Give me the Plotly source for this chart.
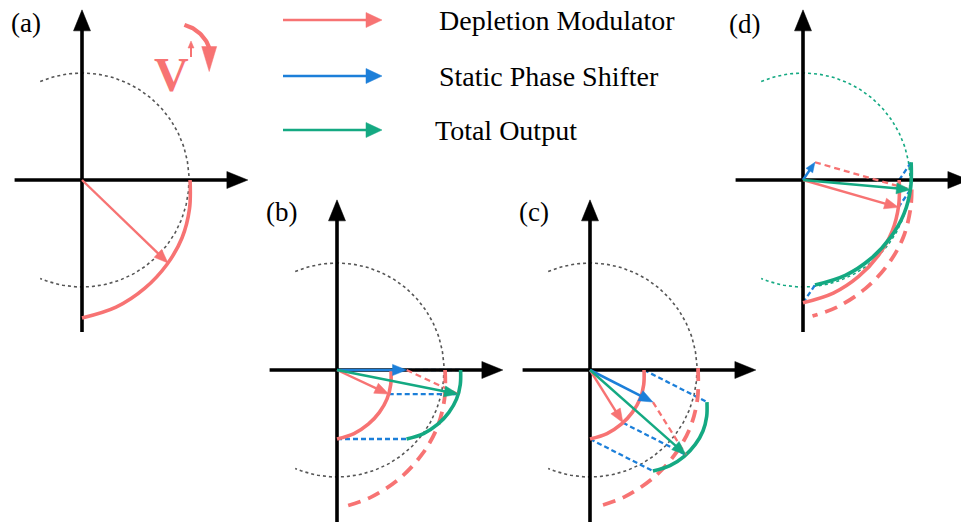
import numpy as np
import plotly.graph_objects as go

# ---------------- data (units: radius of reference circle = 1) ----------------
PANEL_LABELS = ["(a)", "(b)", "(c)", "(d)"]
LEGEND_LABELS = ["Depletion Modulator", "Static Phase Shifter", "Total Output"]

# depletion-modulator trajectory (angle in degrees, relative magnitude)
MOD_ANG = [0, -15, -30, -45, -60, -75, -90]
MOD_R = [1.01, 1.04, 1.08, 1.12, 1.17, 1.23, 1.29]

CIRCLE_SPAN = [113, -113]                     # reference circle arc (deg)
MOD_SCALE = [1.0, 0.5, 0.5, 0.89]            # modulator scale per panel
RED_ANGLE = [-44, -25, -58, -16]             # modulator vector angle per panel
BLUE_MAG = [0.0, 0.65, 0.66, 0.20]           # static phase shifter magnitude
BLUE_ANGLE = [0, 0, -27, 56]                 # static phase shifter angle
DASHED_START = [None, 0, 1, -5]              # full-scale dashed trajectory start
DASHED_END = [None, -86, -86, -86]           # full-scale dashed trajectory end

# ---------------- layout / styles ----------------
W, H = 961, 522
R = 107.0
ORIGINS = [(82, 180), (337, 370), (590, 370), (803, 180)]
LABEL_POS = [(9, 23), (264, 212), (517, 212), (727, 24)]
AX_LEFT, AX_RIGHT, AX_UP, AX_DOWN = 0.63, 1.55, 1.59, 1.42

RED = "#F77373"
BLUE = "#1C7FD9"
GREEN = "#14A982"
GRAY = "#555555"
CIRCLE_COLORS = [GRAY, GRAY, GRAY, GREEN]
FONT = "Liberation Serif"

fig = go.Figure()


def line(xs, ys, color, width, dash="solid", shape="linear"):
    fig.add_trace(go.Scatter(x=list(xs), y=list(ys), mode="lines",
                             line=dict(color=color, width=width, dash=dash, shape=shape),
                             hoverinfo="skip", showlegend=False))


def arrow(x0, y0, x1, y1, color, width=2.5, hl=14, hw=11):
    dx, dy = x1 - x0, y1 - y0
    L = np.hypot(dx, dy)
    ux, uy = dx / L, dy / L
    bx, by = x1 - ux * hl, y1 - uy * hl
    line([x0, bx + ux * 2], [y0, by + uy * 2], color, width)
    px, py = -uy, ux
    fig.add_trace(go.Scatter(
        x=[x1, bx + px * hw / 2, bx - px * hw / 2, x1],
        y=[y1, by + py * hw / 2, by - py * hw / 2, y1],
        mode="lines", fill="toself", fillcolor=color,
        line=dict(color=color, width=0.5), hoverinfo="skip", showlegend=False))


def to_px(o, r, ang):
    a = np.radians(ang)
    return o[0] + R * r * np.cos(a), o[1] - R * r * np.sin(a)


def mod_r(ang):
    return float(np.interp(ang, MOD_ANG[::-1], MOD_R[::-1]))


for i, o in enumerate(ORIGINS):
    ox, oy = o
    # reference circle (dotted)
    angs = np.linspace(CIRCLE_SPAN[0], CIRCLE_SPAN[1], 200)
    cx, cy = to_px(o, 1.0, angs)
    line(cx, cy, CIRCLE_COLORS[i], 1.6, dash="3px,3px")

    s = MOD_SCALE[i]
    arc_x, arc_y = to_px(o, s * np.array(MOD_R), np.array(MOD_ANG))
    red_tip = to_px(o, s * mod_r(RED_ANGLE[i]), RED_ANGLE[i])
    bdx = R * BLUE_MAG[i] * np.cos(np.radians(BLUE_ANGLE[i]))
    bdy = -R * BLUE_MAG[i] * np.sin(np.radians(BLUE_ANGLE[i]))
    has_blue = BLUE_MAG[i] > 0

    # blue dotted connectors (translation by static phase shifter)
    if has_blue:
        for (px_, py_) in [(arc_x[0], arc_y[0]), red_tip, (arc_x[-1], arc_y[-1])]:
            line([px_, px_ + bdx], [py_, py_ + bdy], BLUE, 2.3, dash="5px,3px")

    # axes
    arrow(ox - R * AX_LEFT, oy, ox + R * AX_RIGHT, oy, "black", width=3.6, hl=21, hw=17)
    arrow(ox, oy + R * AX_DOWN, ox, oy - R * AX_UP, "black", width=3.6, hl=21, hw=17)

    # full-scale dashed trajectory
    if DASHED_START[i] is not None:
        a0, a1 = DASHED_START[i], DASHED_END[i]
        d_ang = [a0] + [a for a in MOD_ANG if a1 < a < a0] + [a1]
        d_r = [mod_r(a) for a in d_ang]
        dx_, dy_ = to_px(o, np.array(d_r), np.array(d_ang))
        line(dx_, dy_, RED, 3.8, dash="13px,8px", shape="spline")

    # modulator trajectory
    line(arc_x, arc_y, RED, 3.6, shape="spline")

    if has_blue:
        # total-output trajectory
        line(arc_x + bdx, arc_y + bdy, GREEN, 3.6, shape="spline")
        # translated modulator vector (red dashed)
        line([ox + bdx, red_tip[0] + bdx], [oy + bdy, red_tip[1] + bdy], RED, 2.3, dash="6px,4px")

    # vectors
    arrow(ox, oy, red_tip[0], red_tip[1], RED, width=2.4, hl=14, hw=11)
    if has_blue:
        hl_b = 10 if BLUE_MAG[i] < 0.3 else 14
        arrow(ox, oy, ox + bdx, oy + bdy, BLUE, width=2.6, hl=hl_b, hw=hl_b * 0.8)
        arrow(ox, oy, red_tip[0] + bdx, red_tip[1] + bdy, GREEN, width=2.4, hl=14, hw=11)

annotations = []
for lab, (lx, ly) in zip(PANEL_LABELS, LABEL_POS):
    annotations.append(dict(x=lx, y=ly, text=lab, showarrow=False, xanchor="left", yanchor="middle",
                            font=dict(family=FONT, size=27, color="black")))

# legend
LEG_Y = [20, 76, 130]
LEG_TX = [437, 437, 433]
for lab, col, ly, tx in zip(LEGEND_LABELS, [RED, BLUE, GREEN], LEG_Y, LEG_TX):
    arrow(283, ly, 382, ly, col, width=2.5, hl=16, hw=15)
    annotations.append(dict(x=tx, y=ly, text=lab, showarrow=False, xanchor="left", yanchor="middle",
                            font=dict(family=FONT, size=28, color="black")))

# voltage symbol in panel (a)
annotations.append(dict(x=171, y=74, text="<b>V</b>", showarrow=False, xanchor="center", yanchor="middle",
                        font=dict(family=FONT, size=48, color=RED)))
arrow(191, 57, 191, 41, RED, width=2.0, hl=7, hw=6)
ca = np.radians(np.linspace(75, 20, 30))
line(175 + 36.4 * np.cos(ca), 60 - 36.4 * np.sin(ca), RED, 4.2)
ex, ey = 175 + 36.4 * np.cos(np.radians(20)), 60 - 36.4 * np.sin(np.radians(20))
fig.add_trace(go.Scatter(x=[ex - 7.5, ex + 7.5, ex, ex - 7.5], y=[ey - 1, ey - 1, ey + 24, ey - 1],
                         mode="lines", fill="toself", fillcolor=RED, line=dict(color=RED, width=0.5),
                         hoverinfo="skip", showlegend=False))

fig.update_layout(
    width=W, height=H, margin=dict(l=0, r=0, t=0, b=0),
    paper_bgcolor="white", plot_bgcolor="white", showlegend=False,
    xaxis=dict(range=[0, W], visible=False, fixedrange=True),
    yaxis=dict(range=[H, 0], visible=False, fixedrange=True),
    annotations=annotations,
)

fig.write_html("out.html", config={"displayModeBar": False},
               post_script="document.body.style.margin='0';")
